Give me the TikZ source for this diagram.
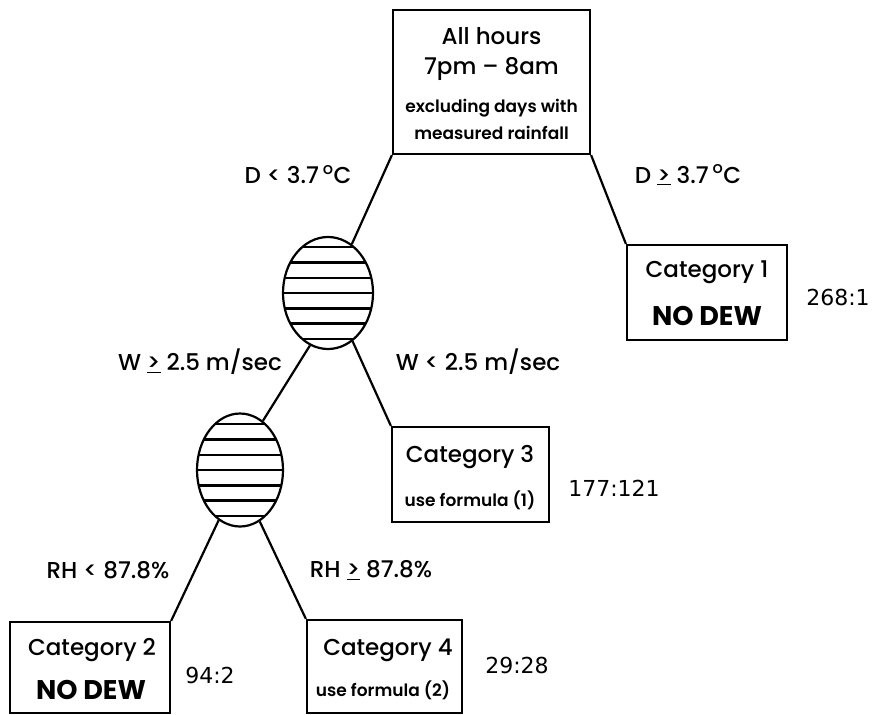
\documentclass[tikz,border=0pt]{standalone}
\usepackage{fontspec}
\setmainfont{Poppins}[UprightFont=* Medium, BoldFont=* SemiBold]
\newfontfamily\heavyfont{Poppins}[UprightFont=* Bold]
\newfontfamily\numfont{DejaVu Sans}
\usetikzlibrary{shapes.geometric}
\newcommand{\gequ}{\underline{>}}
\begin{document}
\begin{tikzpicture}[x=1pt,y=-1pt,
  lw/.style={line width=2.2pt},
  box/.style={draw, lw, rectangle, inner sep=0pt},
  hatch/.style={ellipse, draw, lw, inner sep=0pt, minimum width=88pt, minimum height=112pt,
    path picture={\foreach \k in {-3,...,3}
      \draw[line width=2.4pt] ([yshift=\k*15.3pt]path picture bounding box.west) -- ([yshift=\k*15.3pt]path picture bounding box.east);}},
  big/.style={font=\fontsize{23}{25}\selectfont, inner sep=0pt},
  nodew/.style={font=\fontsize{27}{29}\selectfont\heavyfont, inner sep=0pt},
  small/.style={font=\fontsize{17}{19}\selectfont\bfseries, inner sep=0pt},
  lbl/.style={font=\fontsize{23}{25}\selectfont, inner sep=0pt},
  ratio/.style={font=\fontsize{22}{24}\selectfont\numfont, inner sep=0pt},
  conn/.style={lw}
]
\useasboundingbox (0,0) rectangle (873,715);
% boxes
\node[box, minimum width=197pt, minimum height=144pt] (top) at (491.5,82) {};
\node[box, minimum width=160pt, minimum height=95pt] (c1) at (707,292.5) {};
\node[box, minimum width=157pt, minimum height=95pt] (c3) at (470.5,474.5) {};
\node[box, minimum width=160pt, minimum height=91pt] (c2) at (90,667.5) {};
\node[box, minimum width=155pt, minimum height=93pt] (c4) at (384.5,666.5) {};
% hatched decision nodes
\node[hatch, minimum width=90pt] (e1) at (328,293) {};
\node[hatch, minimum width=86pt, minimum height=113pt] (e2) at (240,470) {};
% box texts
\node[big] (t1) at (491.5,36) {All hours};
\node[big] (t2) at (491.5,69) {7pm -- 8am};
\node[small] (t3) at (491.5,108) {excluding days with};
\node[small] (t4) at (491.5,133) {measured rainfall};
\node[big] (c1a) at (707,272) {Category 1};
\node[nodew] (c1b) at (707,316) {NO DEW};
\node[big] (c3a) at (470,457) {Category 3};
\node[small] (c3b) at (470,500) {use formula (1)};
\node[big] (c2a) at (92,650) {Category 2};
\node[nodew] (c2b) at (91,690) {NO DEW};
\node[big] (c4a) at (388,650) {Category 4};
\node[small] (c4b) at (383,690) {use formula (2)};
% ratios
\node[ratio] (r1) at (838,297) {268:1};
\node[ratio] (r3) at (614,488) {177:121};
\node[ratio] (r2) at (210,675) {94:2};
\node[ratio] (r4) at (517,665) {29:28};
% branch labels
\node[lbl] (l1) at (298,175) {D < 3.7\,\textsuperscript{o}C};
\node[lbl] (l2) at (688,175) {D \gequ\ 3.7\,\textsuperscript{o}C};
\node[lbl] (l3) at (200,362) {W \gequ\ 2.5 m/sec};
\node[lbl] (l4) at (478,362) {W < 2.5 m/sec};
\node[lbl] (l5) at (108,570) {RH < 87.8\%};
\node[lbl] (l6) at (371,570) {RH \gequ\ 87.8\%};
% connectors
\draw[conn] (top.south west) -- (e1.64);
\draw[conn] (top.south east) -- (c1.north west);
\draw[conn] (e1.251) -- (e2.65);
\draw[conn] (e1.297) -- (c3.north west);
\draw[conn] (e2.247) -- (c2.north east);
\draw[conn] (e2.291) -- (c4.north west);
\end{tikzpicture}
\end{document}
